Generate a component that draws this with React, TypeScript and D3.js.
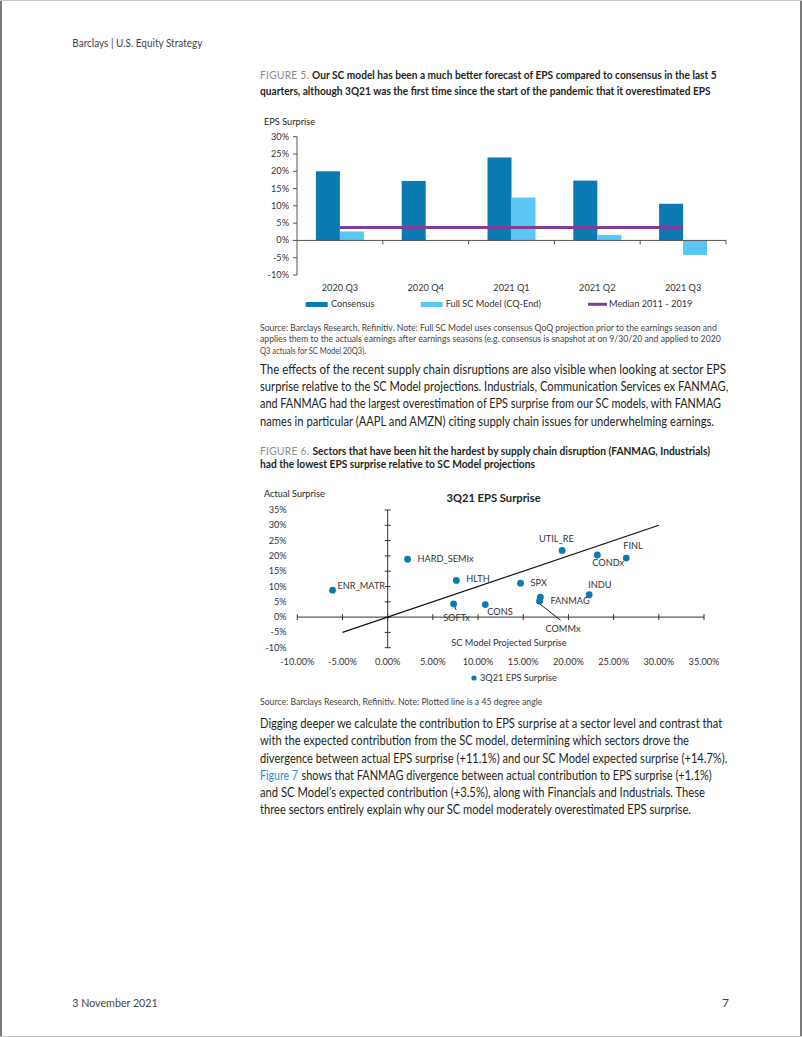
import React from 'react';
import * as d3 from 'd3';

const FONT = "'Source Sans Pro', Lato, 'Noto Sans', sans-serif";
const TXT = '#231f20';
const BLUE = '#0a7ab3';
const LIGHT = '#5cc6f2';
const PURPLE = '#7f3f98';
const FS = 9.2;

// ---------- Figure 5 data ----------
const quarters = ['2020 Q3', '2020 Q4', '2021 Q1', '2021 Q2', '2021 Q3'];
const consensus = [20.0, 17.2, 24.0, 17.3, 10.6];
const scModel: (number | null)[] = [2.6, null, 12.4, 1.6, -4.2];
const median = 3.75;
const barTicks = [-10, -5, 0, 5, 10, 15, 20, 25, 30];

// ---------- Figure 6 data ----------
const sectors = ['ENR_MATR', 'HARD_SEMIx', 'HLTH', 'SOFTx', 'CONS', 'SPX', 'FANMAG', 'COMMx', 'UTIL_RE', 'CONDx', 'FINL', 'INDU'];
const projected = [-6.1, 2.2, 7.6, 7.3, 10.8, 14.7, 16.9, 16.8, 19.3, 23.2, 26.4, 22.3];
const actual = [8.8, 18.9, 12.0, 4.3, 4.1, 11.1, 6.5, 5.2, 21.8, 20.3, 19.3, 7.3];
const scatterTicks = [-10, -5, 0, 5, 10, 15, 20, 25, 30, 35];
const diagonal = [-5, 30];

// label layout (px offsets from point): [dx, dy, leaderToDx, leaderToDy]
const labelOffsets: Record<string, number[]> = {
  ENR_MATR: [5, -4],
  HARD_SEMIx: [10, 0],
  HLTH: [10, -1],
  SOFTx: [-10.5, 14.5, 2.5, 6],
  CONS: [2, 7],
  SPX: [10, 0],
  FANMAG: [10, 4],
  COMMx: [6, 28, 21, 19],
  UTIL_RE: [-23, -11],
  CONDx: [-5, 7.5],
  FINL: [-3, -12],
  INDU: [-1, -10],
};

// ---------- Text ----------
const cap5 = [
  ['FIGURE 5. ', 'Our SC model has been a much better forecast of EPS compared to consensus in the last 5'],
  ['', 'quarters, although 3Q21 was the first time since the start of the pandemic that it overestimated EPS'],
];
const src5 = [
  'Source: Barclays Research, Refinitiv. Note: Full SC Model uses consensus QoQ projection prior to the earnings season and',
  'applies them to the actuals earnings after earnings seasons (e.g. consensus is snapshot at on 9/30/20 and applied to 2020',
  'Q3 actuals for SC Model 20Q3).',
];
const para1 = [
  'The effects of the recent supply chain disruptions are also visible when looking at sector EPS',
  'surprise relative to the SC Model projections. Industrials, Communication Services ex FANMAG,',
  'and FANMAG had the largest overestimation of EPS surprise from our SC models, with FANMAG',
  'names in particular (AAPL and AMZN) citing supply chain issues for underwhelming earnings.',
];
const cap6 = [
  ['FIGURE 6. ', 'Sectors that have been hit the hardest by supply chain disruption (FANMAG, Industrials)'],
  ['', 'had the lowest EPS surprise relative to SC Model projections'],
];
const para2 = [
  'Digging deeper we calculate the contribution to EPS surprise at a sector level and contrast that',
  'with the expected contribution from the SC model, determining which sectors drove the',
  'divergence between actual EPS surprise (+11.1%) and our SC Model expected surprise (+14.7%).',
  'shows that FANMAG divergence between actual contribution to EPS surprise (+1.1%)',
  'and SC Model\u2019s expected contribution (+3.5%), along with Financials and Industrials. These',
  'three sectors entirely explain why our SC model moderately overestimated EPS surprise.',
];
const linkText = 'Figure 7';
const para1Ends = [726, 728.3, 721, 714];
const para2Ends = [722.3, 689, 727.3, 711.7, 705, 691];
const src5Ends = [716.7, 720.7, 366];
const cap5Ends = [716.7, 710.7];
const cap6Ends = [710, 535];

const L = 260;

function T(props: any) {
  const { x, y, size, len, children, ...rest } = props;
  return (
    <text x={x} y={y} dy="0.33em" fontSize={size} fontFamily={FONT} fill={TXT}
      textLength={len} lengthAdjust={len ? 'spacingAndGlyphs' : undefined} {...rest}>
      {children}
    </text>
  );
}

function BarChart() {
  const x = d3.scaleBand<string>().domain(quarters).range([297, 726]).padding(0);
  const inner = d3.scaleBand<string>().domain(['c', 's']).range([-24, 24]);
  const y = d3.scaleLinear().domain([-10, 30]).range([275, 136.7]);
  const bw = inner.bandwidth();
  const cx = (q: string) => (x(q) as number) + x.bandwidth() / 2;
  return (
    <g>
      <T x={264} y={121.5} size={FS}>EPS Surprise</T>
      {quarters.map((q, i) => (
        <rect key={'c' + q} x={cx(q) + (inner('c') as number)} width={bw}
          y={y(Math.max(0, consensus[i]))} height={Math.abs(y(consensus[i]) - y(0))} fill={BLUE} />
      ))}
      {quarters.map((q, i) => scModel[i] == null ? null : (
        <rect key={'s' + q} x={cx(q) + (inner('s') as number)} width={bw}
          y={y(Math.max(0, scModel[i] as number))} height={Math.abs(y(scModel[i] as number) - y(0))} fill={LIGHT} />
      ))}
      <line x1={297} x2={297} y1={y(30)} y2={y(-10)} stroke="#555" strokeWidth={1} />
      {barTicks.map(t => (
        <g key={t}>
          <line x1={293} x2={297} y1={y(t)} y2={y(t)} stroke="#555" />
          <T x={289} y={y(t)} size={FS} textAnchor="end" fill="#333">{t + '%'}</T>
        </g>
      ))}
      <line x1={297} x2={726} y1={y(0)} y2={y(0)} stroke="#555" />
      {quarters.map(q => (
        <line key={'t' + q} x1={(x(q) as number) + x.bandwidth()} x2={(x(q) as number) + x.bandwidth()}
          y1={y(0)} y2={y(0) + 4} stroke="#555" />
      ))}
      <line x1={cx(quarters[0])} x2={cx(quarters[quarters.length - 1])} y1={y(median)} y2={y(median)}
        stroke={PURPLE} strokeWidth={3} />
      {quarters.map(q => (
        <T key={'l' + q} x={cx(q)} y={288.3} size={FS} textAnchor="middle" fill="#333">{q}</T>
      ))}
      <rect x={305.7} y={302} width={22} height={5} fill={BLUE} />
      <T x={331} y={304.3} size={FS} fill="#333">Consensus</T>
      <rect x={420.7} y={302} width={22} height={5} fill={LIGHT} />
      <T x={445.7} y={304.3} size={FS} fill="#333">Full SC Model (CQ-End)</T>
      <line x1={588} x2={607} y1={304.3} y2={304.3} stroke={PURPLE} strokeWidth={3} />
      <T x={609} y={304.3} size={FS} fill="#333">Median 2011 - 2019</T>
    </g>
  );
}

function Scatter() {
  const x = d3.scaleLinear().domain([-10, 35]).range([297.3, 704]);
  const y = d3.scaleLinear().domain([-10, 35]).range([647.7, 510]);
  const x0 = x(0);
  const y0 = y(0);
  return (
    <g>
      <T x={264} y={494} size={FS}>Actual Surprise</T>
      <T x={493.5} y={498.5} size={11.2} fontWeight="bold" textAnchor="middle">3Q21 EPS Surprise</T>
      <line x1={x0} x2={x0} y1={y(35)} y2={y(-10)} stroke="#333" />
      {scatterTicks.map(t => (
        <g key={'y' + t}>
          <line x1={x0 - 3} x2={x0 + 3} y1={y(t)} y2={y(t)} stroke="#333" />
          <T x={286.7} y={y(t)} size={FS} textAnchor="end" fill="#333">{t + '%'}</T>
        </g>
      ))}
      <line x1={x(-10)} x2={x(35)} y1={y0} y2={y0} stroke="#333" />
      {scatterTicks.map(t => (
        <g key={'x' + t}>
          <line x1={x(t)} x2={x(t)} y1={y0 - 3} y2={y0 + 3} stroke="#333" />
          <T x={x(t)} y={661.7} size={FS} textAnchor="middle" fill="#333">{t.toFixed(2) + '%'}</T>
        </g>
      ))}
      <line x1={x(diagonal[0])} y1={y(diagonal[0])} x2={x(diagonal[1])} y2={y(diagonal[1])} stroke="#111" strokeWidth={1.2} />
      <T x={509} y={642.7} size={FS} textAnchor="middle" fill="#333">SC Model Projected Surprise</T>
      {sectors.map((s, i) => {
        const px = x(projected[i]);
        const py = y(actual[i]);
        const o = labelOffsets[s];
        return (
          <g key={s}>
            {o.length > 2 && (
              <line x1={px + (s === 'SOFTx' ? 1 : 0)} y1={py + 2.5} x2={px + o[2]} y2={py + o[3]} stroke="#222" strokeWidth={1} />
            )}
            <circle cx={px} cy={py} r={3.4} fill={BLUE} />
            <T x={px + o[0]} y={py + o[1]} size={FS} fill="#333">{s}</T>
          </g>
        );
      })}
      <circle cx={474} cy={678} r={2.6} fill={BLUE} />
      <T x={480} y={678} size={FS} fill="#333">3Q21 EPS Surprise</T>
    </g>
  );
}

function Caption({ lines, ys, ends }: any) {
  return (
    <g>
      {lines.map((ln: string[], i: number) => (
        <text key={i} x={L} y={ys[i]} dy="0.33em" fontSize={10.5} fontFamily={FONT}
          textLength={ends[i] - L} lengthAdjust="spacingAndGlyphs">
          {ln[0] && <tspan fill="#8c8c8c" letterSpacing="0.3">{ln[0]}</tspan>}
          <tspan fill={TXT} fontWeight="bold">{ln[1]}</tspan>
        </text>
      ))}
    </g>
  );
}

export default function App() {
  return (
    <svg width={802} height={1037} style={{ position: 'absolute', left: 0, top: 0, background: '#fff' }}>
      <rect x={0} y={0} width={802} height={1037} fill="#fff" />
      <line x1={1} x2={1} y1={0} y2={1037} stroke="#7a7a7a" strokeWidth={2} />
      <line x1={801} x2={801} y1={0} y2={1037} stroke="#7a7a7a" strokeWidth={2} />
      <line x1={0} x2={802} y1={0.5} y2={0.5} stroke="#c8c8c8" strokeWidth={1} />
      <line x1={0} x2={802} y1={1036.5} y2={1036.5} stroke="#c8c8c8" strokeWidth={1} />

      <T x={72.3} y={43} size={12} fill="#444" len={130}>Barclays | U.S. Equity Strategy</T>

      <Caption lines={cap5} ys={[76, 92]} ends={cap5Ends} />
      <BarChart />
      {src5.map((s, i) => (
        <T key={i} x={L} y={327.5 + i * 11.5} size={9.3} fill="#444" len={src5Ends[i] - L}>{s}</T>
      ))}
      {para1.map((s, i) => (
        <T key={i} x={L} y={369.3 + i * 17.4} size={12.8} len={para1Ends[i] - L}>{s}</T>
      ))}

      <Caption lines={cap6} ys={[451.7, 465]} ends={cap6Ends} />
      <Scatter />
      <T x={L} y={701.7} size={9.3} fill="#444" len={542.3 - L}>Source: Barclays Research, Refinitiv. Note: Plotted line is a 45 degree angle</T>

      {para2.map((s, i) => {
        const y = 724 + i * 17.15;
        if (i === 3) {
          return (
            <g key={i}>
              <T x={L} y={y} size={12.8} fill="#1f8fc4" len={38}>{linkText}</T>
              <T x={301.5} y={y} size={12.8} len={para2Ends[i] - 301.5}>{s}</T>
            </g>
          );
        }
        return <T key={i} x={L} y={y} size={12.8} len={para2Ends[i] - L}>{s}</T>;
      })}

      <T x={72.3} y={1003.3} size={12} fill="#444" len={85.4}>3 November 2021</T>
      <T x={729} y={1003.3} size={12} fill="#444" textAnchor="end">7</T>
    </svg>
  );
}
